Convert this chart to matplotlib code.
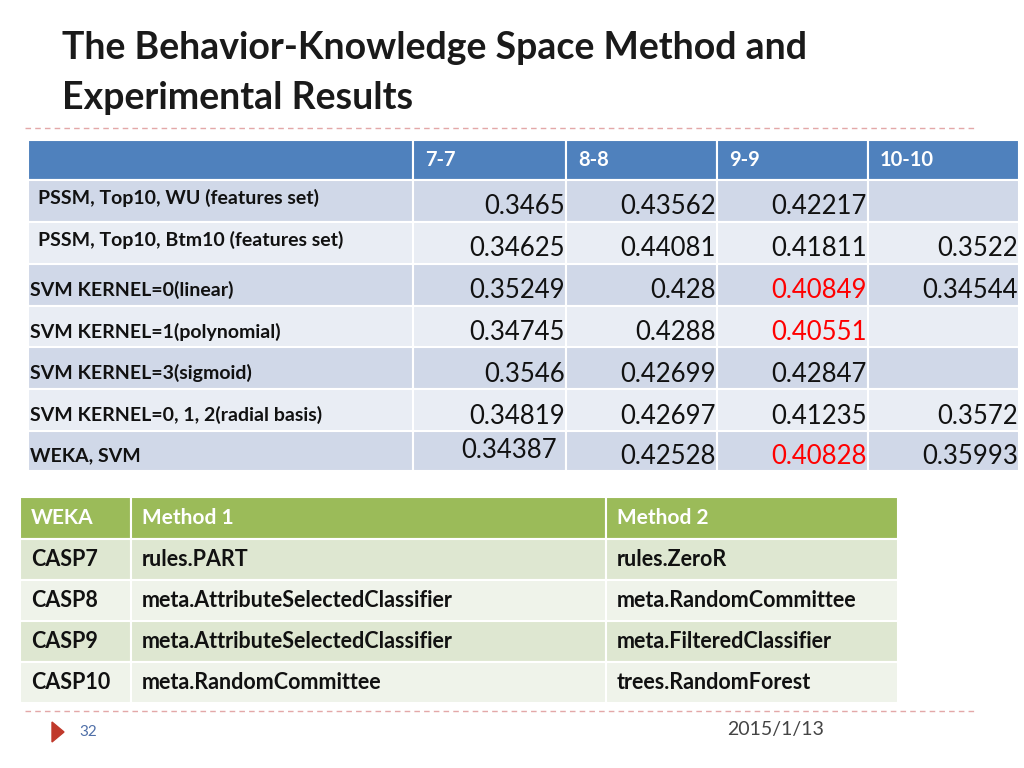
import matplotlib.pyplot as plt
from matplotlib.patches import Rectangle, Polygon

# ---- data ----
cols1 = ["", "7-7", "8-8", "9-9", "10-10"]
rows1 = ["PSSM, Top10, WU (features set)", "PSSM, Top10, Btm10 (features set)",
         "SVM KERNEL=0(linear)", "SVM KERNEL=1(polynomial)", "SVM KERNEL=3(sigmoid)",
         "SVM KERNEL=0, 1, 2(radial basis)", "WEKA, SVM"]
vals1 = [["0.3465", "0.43562", "0.42217", ""],
         ["0.34625", "0.44081", "0.41811", "0.3522"],
         ["0.35249", "0.428", "0.40849", "0.34544"],
         ["0.34745", "0.4288", "0.40551", ""],
         ["0.3546", "0.42699", "0.42847", ""],
         ["0.34819", "0.42697", "0.41235", "0.3572"],
         ["0.34387", "0.42528", "0.40828", "0.35993"]]
red_cells = [(2, 2), (3, 2), (6, 2)]

cols2 = ["WEKA", "Method 1", "Method 2"]
rows2 = [["CASP7", "rules.PART", "rules.ZeroR"],
         ["CASP8", "meta.AttributeSelectedClassifier", "meta.RandomCommittee"],
         ["CASP9", "meta.AttributeSelectedClassifier", "meta.FilteredClassifier"],
         ["CASP10", "meta.RandomCommittee", "trees.RandomForest"]]

FONT = "Lato"
fig = plt.figure(figsize=(10.24, 7.68), dpi=100)
ax = fig.add_axes([0, 0, 1, 1])
ax.set_xlim(0, 1024)
ax.set_ylim(768, 0)
ax.axis("off")

def cell(x0, y0, x1, y1, c):
    ax.add_patch(Rectangle((x0, y0), x1 - x0, y1 - y0, facecolor=c, edgecolor="white", lw=1.5))

# title
ax.text(62, 48, "The Behavior-Knowledge Space Method and", fontsize=27, fontweight="bold",
        family=FONT, color="#1a1a1a", va="center")
ax.text(62, 98, "Experimental Results", fontsize=27, fontweight="bold",
        family=FONT, color="#1a1a1a", va="center")
ax.plot([25, 975], [128, 128], ls=(0, (4, 3)), color="#E3A8A8", lw=1)
ax.plot([25, 975], [711, 711], ls=(0, (4, 3)), color="#E3A8A8", lw=1)

# table 1
xs1 = [28, 413, 566, 717, 868, 1019]
ys1 = [140, 180, 222, 264, 306, 347, 389, 431, 471]
for j in range(5):
    cell(xs1[j], ys1[0], xs1[j + 1], ys1[1], "#4F81BD")
    if cols1[j]:
        ax.text(xs1[j] + 12, 160, cols1[j], color="white", fontsize=14.5, fontweight="bold",
                family=FONT, va="center")
for i, lab in enumerate(rows1):
    c = "#D0D8E8" if i % 2 == 0 else "#E9EDF4"
    y0, y1 = ys1[i + 1], ys1[i + 2]
    for j in range(5):
        cell(xs1[j], y0, xs1[j + 1], y1, c)
    lx = 38 if i < 2 else 30
    ly = (y0 + y1) / 2 - (3 if i < 2 else -5)
    ax.text(lx, ly, lab, fontsize=14, fontweight="bold", family=FONT, va="center", color="#111")
    for j, v in enumerate(vals1[i]):
        if not v:
            continue
        col = "red" if (i, j) in red_cells else "#111"
        vy = y1 - 15 if not (i == 6 and j == 0) else y0 + 20
        xr = xs1[j + 2] - 1 if not (i == 6 and j == 0) else xs1[j + 2] - 9
        ax.text(xr, vy, v, fontsize=18.5, family=FONT, ha="right", va="center", color=col)

# table 2
xs2 = [20, 131, 606, 898]
ys2 = [497, 539, 580, 621, 662, 703]
for j in range(3):
    cell(xs2[j], ys2[0], xs2[j + 1], ys2[1], "#9BBB59")
    ax.text(xs2[j] + 11, 518, cols2[j], color="white", fontsize=15, fontweight="bold",
            family=FONT, va="center")
for i, r in enumerate(rows2):
    c = "#DEE7D1" if i % 2 == 0 else "#EFF3EA"
    y0, y1 = ys2[i + 1], ys2[i + 2]
    for j in range(3):
        cell(xs2[j], y0, xs2[j + 1], y1, c)
        ax.text(xs2[j] + 11, (y0 + y1) / 2, r[j], fontsize=15.5, fontweight="bold",
                family=FONT, va="center", color="#111")

# footer
ax.add_patch(Polygon([[52, 722], [52, 742], [64, 732]], closed=True, color="#C0392B"))
ax.text(79, 732, "32", fontsize=11, family=FONT, color="#4F6FA8", va="center")
ax.text(727, 729, "2015/1/13", fontsize=14, family=FONT, color="#444", va="center")

fig.savefig("out.png", dpi=100)
